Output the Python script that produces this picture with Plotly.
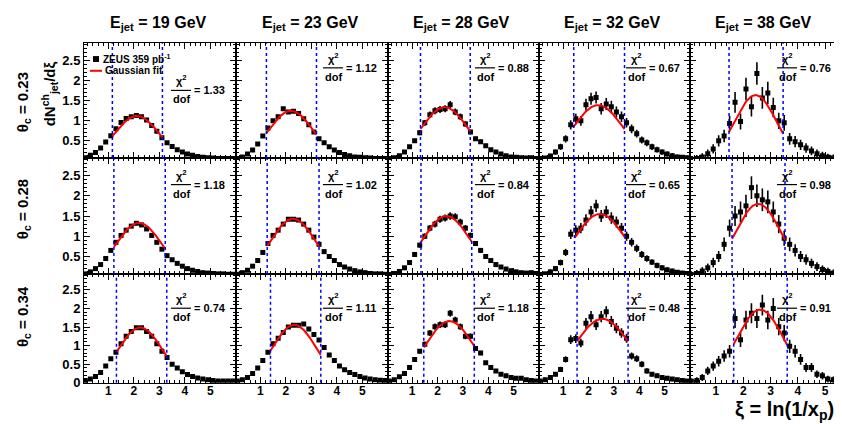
import numpy as np
import plotly.graph_objects as go

W, H = 842, 424

energies = ["19", "23", "28", "32", "38"]
thetas = ["0.23", "0.28", "0.34"]
xi_bins = [0.1, 0.3, 0.5, 0.7, 0.9, 1.1, 1.3, 1.5, 1.7, 1.9, 2.1, 2.3, 2.5, 2.7, 2.9,
           3.1, 3.3, 3.5, 3.7, 3.9, 4.1, 4.3, 4.5, 4.7, 4.9, 5.1, 5.3, 5.5, 5.7, 5.9]
x_tick_labels = ["1", "2", "3", "4", "5"]
y_tick_labels = ["0", "0.5", "1", "1.5", "2", "2.5"]

# ---- measured dN/dxi values, theta_c = 0.23 ----
v_023_19 = [0.08, 0.14, 0.21, 0.32, 0.47, 0.63, 0.80, 0.96, 1.06, 1.10, 1.13, 1.10, 1.02, 0.88, 0.74,
            0.58, 0.45, 0.36, 0.28, 0.22, 0.17, 0.14, 0.11, 0.09, 0.08, 0.07, 0.06, 0.06, 0.06, 0.06]
v_023_23 = [0.06, 0.10, 0.17, 0.27, 0.42, 0.62, 0.82, 1.00, 1.10, 1.30, 1.22, 1.24, 1.18, 1.05, 0.90,
            0.72, 0.55, 0.45, 0.35, 0.27, 0.21, 0.16, 0.13, 0.10, 0.09, 0.08, 0.07, 0.06, 0.06, 0.06]
v_023_28 = [0.05, 0.08, 0.13, 0.22, 0.35, 0.50, 0.70, 0.95, 1.15, 1.25, 1.28, 1.30, 1.40, 1.22, 1.10,
            0.92, 0.72, 0.55, 0.48, 0.38, 0.28, 0.22, 0.17, 0.13, 0.10, 0.09, 0.08, 0.07, 0.08, 0.06]
v_023_32 = [0.05, 0.07, 0.12, 0.22, 0.35, 0.55, 0.90, 1.05, 1.00, 1.40, 1.55, 1.58, 1.30, 1.42, 1.35,
            1.22, 1.10, 0.95, 0.80, 0.68, 0.52, 0.45, 0.35, 0.28, 0.22, 0.17, 0.13, 0.10, 0.09, 0.08]
v_023_38 = [0.04, 0.06, 0.10, 0.18, 0.30, 0.50, 0.62, 0.93, 1.46, 0.98, 1.79, 1.35, 2.18, 1.57, 1.69,
            1.33, 1.00, 0.95, 0.55, 0.48, 0.40, 0.32, 0.25, 0.18, 0.13, 0.09, 0.07, 0.06, 0.05, 0.05]
# ---- theta_c = 0.28 ----
v_028_19 = [0.07, 0.12, 0.20, 0.30, 0.45, 0.65, 0.85, 1.02, 1.15, 1.25, 1.32, 1.28, 1.18, 1.02, 0.85,
            0.68, 0.52, 0.42, 0.33, 0.26, 0.20, 0.16, 0.13, 0.10, 0.09, 0.08, 0.07, 0.07, 0.06, 0.06]
v_028_23 = [0.06, 0.10, 0.16, 0.26, 0.40, 0.60, 0.82, 1.02, 1.15, 1.30, 1.42, 1.42, 1.40, 1.30, 1.15,
            0.98, 0.80, 0.62, 0.50, 0.40, 0.30, 0.24, 0.19, 0.15, 0.12, 0.10, 0.08, 0.07, 0.07, 0.06]
v_028_28 = [0.05, 0.08, 0.13, 0.22, 0.35, 0.55, 0.78, 1.00, 1.20, 1.30, 1.42, 1.45, 1.50, 1.48, 1.35,
            1.20, 1.02, 0.82, 0.65, 0.50, 0.40, 0.30, 0.24, 0.19, 0.15, 0.12, 0.10, 0.09, 0.10, 0.08]
v_028_32 = [0.05, 0.07, 0.12, 0.20, 0.35, 0.60, 1.05, 1.15, 1.20, 1.40, 1.60, 1.75, 1.50, 1.60, 1.45,
            1.35, 1.20, 1.00, 0.85, 0.70, 0.55, 0.45, 0.36, 0.28, 0.22, 0.17, 0.14, 0.11, 0.09, 0.08]
v_028_38 = [0.05, 0.08, 0.14, 0.22, 0.35, 0.50, 0.80, 1.20, 1.50, 1.60, 1.75, 2.20, 2.00, 1.90, 1.85,
            1.60, 1.30, 0.95, 0.80, 0.65, 0.50, 0.42, 0.33, 0.25, 0.18, 0.13, 0.09, 0.07, 0.06, 0.05]
# ---- theta_c = 0.34 ----
v_034_19 = [0.06, 0.10, 0.17, 0.28, 0.45, 0.65, 0.82, 1.05, 1.25, 1.38, 1.48, 1.48, 1.38, 1.25, 1.05,
            0.85, 0.68, 0.50, 0.40, 0.30, 0.22, 0.17, 0.13, 0.10, 0.08, 0.06, 0.05, 0.05, 0.05, 0.05]
v_034_23 = [0.05, 0.08, 0.14, 0.25, 0.40, 0.60, 0.82, 1.05, 1.20, 1.35, 1.50, 1.55, 1.55, 1.58, 1.45,
            1.30, 1.15, 0.95, 0.75, 0.60, 0.45, 0.35, 0.28, 0.22, 0.17, 0.13, 0.10, 0.08, 0.07, 0.06]
v_034_28 = [0.05, 0.08, 0.16, 0.25, 0.41, 0.63, 0.85, 1.04, 1.34, 1.51, 1.56, 1.56, 1.87, 1.69, 1.51,
            1.25, 1.25, 0.92, 0.80, 0.54, 0.41, 0.32, 0.23, 0.19, 0.14, 0.12, 0.12, 0.08, 0.06, 0.05]
v_034_32 = [0.05, 0.08, 0.14, 0.23, 0.36, 0.63, 1.16, 1.19, 1.07, 1.60, 1.78, 1.56, 1.78, 1.91, 1.65,
            1.47, 1.34, 1.20, 0.72, 0.65, 0.50, 0.32, 0.23, 0.19, 0.14, 0.12, 0.10, 0.08, 0.06, 0.05]
v_034_38 = [0.04, 0.06, 0.14, 0.32, 0.45, 0.58, 0.72, 0.85, 1.73, 1.16, 1.69, 1.87, 1.73, 2.09, 1.69,
            2.00, 1.51, 1.34, 0.98, 0.85, 0.63, 0.41, 0.41, 0.23, 0.19, 0.10, 0.08, 0.05, 0.04, 0.04]

# typical error size per column
e_col_peak = [0.03, 0.04, 0.09, 0.15, 0.28]
e_col_tail = [0.01, 0.015, 0.03, 0.05, 0.08]

values = [[v_023_19, v_023_23, v_023_28, v_023_32, v_023_38],
          [v_028_19, v_028_23, v_028_28, v_028_32, v_028_38],
          [v_034_19, v_034_23, v_034_28, v_034_32, v_034_38]]

# Gaussian fit results (amplitude, mean, sigma) and fit ranges
fit_amp = [[1.12, 1.25, 1.34, 1.39, 1.64],
           [1.33, 1.43, 1.50, 1.55, 1.80],
           [1.49, 1.56, 1.66, 1.72, 1.97]]
fit_mean = [[2.12, 2.20, 2.28, 2.38, 2.45],
            [2.20, 2.28, 2.35, 2.45, 2.55],
            [2.25, 2.33, 2.47, 2.55, 2.62]]
fit_sigma = [[0.88, 0.88, 0.93, 0.98, 0.76],
             [0.90, 0.90, 0.95, 1.02, 0.84],
             [0.86, 0.86, 0.96, 1.08, 0.86]]
fit_lo = [[1.16, 1.24, 1.33, 1.42, 1.48],
          [1.22, 1.27, 1.35, 1.45, 1.59],
          [1.32, 1.40, 1.46, 1.55, 1.65]]
fit_hi = [[3.12, 3.20, 3.29, 3.42, 3.46],
          [3.23, 3.30, 3.35, 3.45, 3.53],
          [3.29, 3.37, 3.45, 3.56, 3.61]]
chi2_dof = [["1.33", "1.12", "0.88", "0.67", "0.76"],
            ["1.18", "1.02", "0.84", "0.65", "0.98"],
            ["0.74", "1.11", "1.18", "0.48", "0.91"]]

# ---------------- geometry (pixels) ----------------
col_left = [76, 228, 380, 531, 682]
col_right = [228, 380, 531, 682, 833]
row_top = [36, 153, 271]
row_bot = [153, 271, 382]
x_ranges = [[0.05, 6.0], [0.05, 6.0], [0.05, 6.0], [0.05, 6.0], [0.05, 5.58]]
y_ranges = [[0.07, 2.93], [0.07, 2.93], [0.0, 2.93]]

FONT = "Liberation Sans, Arial, Helvetica, sans-serif"


def px(x):
    return x / W


def py(y):
    return 1 - y / H


fig = go.Figure()
layout = dict(width=W, height=H, margin=dict(l=0, r=0, t=0, b=0),
              paper_bgcolor="white", plot_bgcolor="white", showlegend=False,
              font=dict(family=FONT, color="black"))
shapes = []
annotations = []

for r in range(3):
    for c in range(5):
        k = r * 5 + c + 1
        s = "" if k == 1 else str(k)
        xr, yr = "x" + s, "y" + s
        vals = values[r][c]
        A, mu, sg = fit_amp[r][c], fit_mean[r][c], fit_sigma[r][c]
        lo, hi = fit_lo[r][c], fit_hi[r][c]
        errs = [e_col_tail[c] + (e_col_peak[c] - e_col_tail[c]) * min(1.0, v / A) for v in vals]

        fig.add_trace(go.Scatter(
            x=xi_bins, y=vals, mode="markers", xaxis=xr, yaxis=yr,
            marker=dict(symbol="square", size=5, color="black"),
            error_y=dict(type="data", array=errs, thickness=1.6, width=0, color="black"),
            cliponaxis=True))
        xf = np.linspace(lo, hi, 60)
        yf = A * np.exp(-0.5 * ((xf - mu) / sg) ** 2)
        fig.add_trace(go.Scatter(x=xf, y=yf, mode="lines", xaxis=xr, yaxis=yr,
                                 line=dict(color="red", width=2)))
        for xv in (lo, hi):
            shapes.append(dict(type="line", xref=xr, yref=yr + " domain", x0=xv, x1=xv,
                               y0=0, y1=1, line=dict(color="blue", width=1.5, dash="dot")))

        ytv = [0.5, 1, 1.5, 2, 2.5] if r < 2 else [0, 0.5, 1, 1.5, 2, 2.5]
        ytt = y_tick_labels[1:] if r < 2 else y_tick_labels
        layout["xaxis" + s] = dict(
            domain=[px(col_left[c]), px(col_right[c])], anchor=yr, range=x_ranges[c],
            showline=True, linecolor="black", linewidth=1, mirror="allticks",
            ticks="inside", ticklen=6, tickcolor="black", tickwidth=1,
            tickmode="array", tickvals=[1, 2, 3, 4, 5], ticktext=x_tick_labels,
            showticklabels=(r == 2), showgrid=False, zeroline=False, ticklabelstandoff=-3,
            tickfont=dict(size=12, family=FONT, weight="bold"),
            minor=dict(ticks="inside", ticklen=3, tickcolor="black", tickmode="linear",
                       tick0=0, dtick=0.2, showgrid=False))
        layout["yaxis" + s] = dict(
            domain=[py(row_bot[r]), py(row_top[r])], anchor=xr, range=y_ranges[r],
            showline=True, linecolor="black", linewidth=1, mirror="allticks",
            ticks="inside", ticklen=6, tickcolor="black", tickwidth=1,
            tickmode="array", tickvals=ytv, ticktext=ytt,
            showticklabels=(c == 0), showgrid=False, zeroline=False,
            tickfont=dict(size=13, family=FONT, weight="bold"),
            minor=dict(ticks="inside", ticklen=3, tickcolor="black", tickmode="linear",
                       tick0=0, dtick=0.1, showgrid=False))

        # chi2/dof fraction
        xc = col_left[c] + 97
        ybar = row_top[r] + (48 if (r == 0 and c == 0) else (25 if r == 0 else (27 if r == 1 else 35)))
        annotations.append(dict(x=px(xc), y=py(ybar - 1), xref="paper", yref="paper",
                                text="χ<sup>2</sup>", showarrow=False, xanchor="center",
                                yanchor="bottom", font=dict(size=11, weight="bold")))
        annotations.append(dict(x=px(xc), y=py(ybar + 1), xref="paper", yref="paper",
                                text="dof", showarrow=False, xanchor="center",
                                yanchor="top", font=dict(size=11, weight="bold")))
        shapes.append(dict(type="line", xref="paper", yref="paper",
                           x0=px(xc - 10), x1=px(xc + 10), y0=py(ybar), y1=py(ybar),
                           line=dict(color="black", width=1.2)))
        annotations.append(dict(x=px(xc + 11), y=py(ybar), xref="paper", yref="paper",
                                text="= " + chi2_dof[r][c], showarrow=False, xanchor="left",
                                yanchor="middle", font=dict(size=11, weight="bold")))

# column titles
for c in range(5):
    annotations.append(dict(x=px((col_left[c] + col_right[c]) / 2 - 2), y=py(16), xref="paper",
                            yref="paper", text="E<sub>jet</sub> = " + energies[c] + " GeV",
                            showarrow=False, xanchor="center", yanchor="middle",
                            font=dict(size=16, weight="bold")))
# row titles
row_label_y = [96, 205, 315]
for r in range(3):
    annotations.append(dict(x=px(15), y=py(row_label_y[r]), xref="paper", yref="paper",
                            text="θ<sub>c</sub> = " + thetas[r], showarrow=False, textangle=-90,
                            xanchor="center", yanchor="middle", font=dict(size=15, weight="bold")))
# y title
annotations.append(dict(x=px(41), y=py(88), xref="paper", yref="paper",
                        text="dN<sup>ch</sup><sub>jet</sub>/dξ", showarrow=False, textangle=-90,
                        xanchor="center", yanchor="middle", font=dict(size=15, weight="bold")))
# x title
annotations.append(dict(x=px(828), y=py(425), xref="paper", yref="paper",
                        text="ξ = ln(1/x<sub>p</sub>)", showarrow=False, xanchor="right",
                        yanchor="bottom", font=dict(size=20, weight="bold")))
# legend
shapes.append(dict(type="rect", xref="paper", yref="paper", x0=px(85), x1=px(91),
                   y0=py(49), y1=py(55), fillcolor="black", line=dict(width=0)))
annotations.append(dict(x=px(93), y=py(52), xref="paper", yref="paper",
                        text="ZEUS 359 pb<sup>-1</sup>", showarrow=False, xanchor="left",
                        yanchor="middle", font=dict(size=10, weight="bold")))
shapes.append(dict(type="line", xref="paper", yref="paper", x0=px(82), x1=px(94),
                   y0=py(64), y1=py(64), line=dict(color="red", width=2)))
annotations.append(dict(x=px(95), y=py(64), xref="paper", yref="paper",
                        text="Gaussian fit", showarrow=False, xanchor="left",
                        yanchor="middle", font=dict(size=10, weight="bold")))

layout["shapes"] = shapes
layout["annotations"] = annotations
fig.update_layout(**layout)
fig.write_html("out.html")
